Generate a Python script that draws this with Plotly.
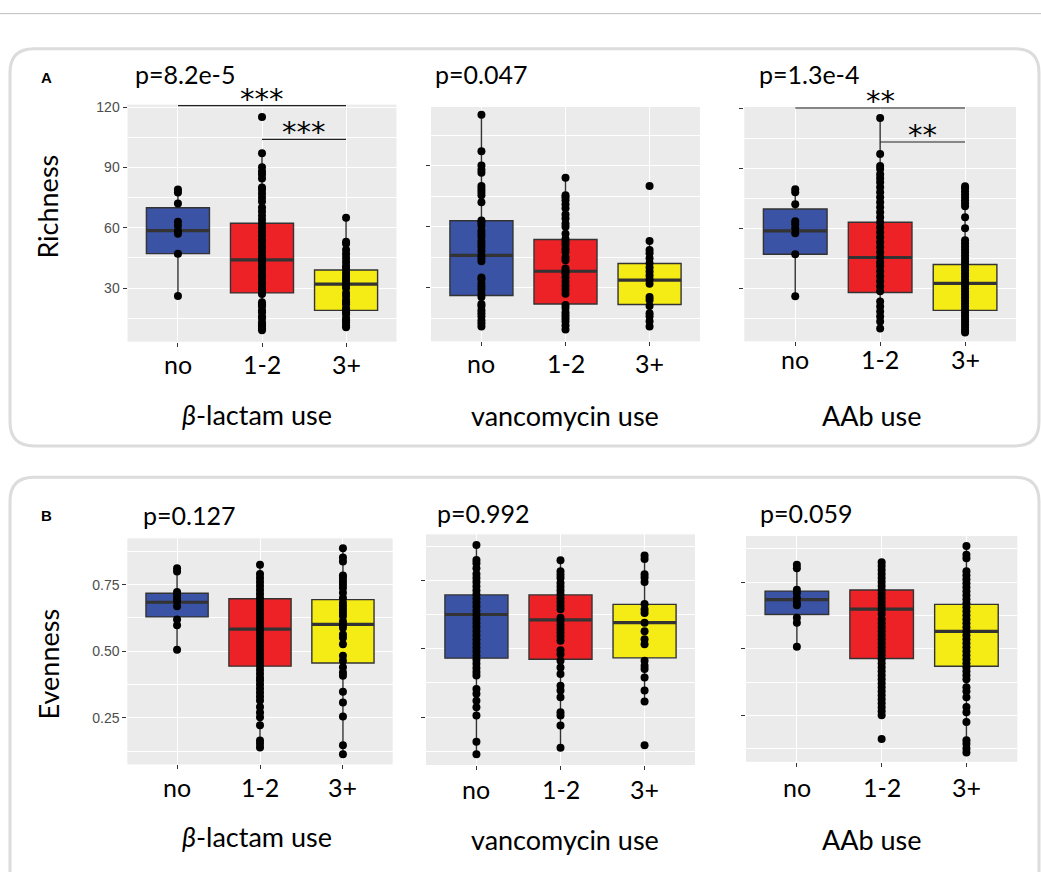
import plotly.graph_objects as go

W, H = 1041, 872

categories = ["no", "1-2", "3+"]
box_colors = ["#3A53A4", "#EC2227", "#F6EC15"]

# ---------------- Richness (panel A) ----------------
rich_blac_no = [79, 77.5, 72, 63, 61, 58.5, 57, 47, 26]
rich_blac_12 = [115, 97, 90, 88, 86.5, 84.5, 80, 79, 77, 75, 73, 70, 68, 66, 64, 62, 60, 58, 56, 54, 53,
                51, 50, 48, 46, 45, 44, 43, 41, 40, 39, 37, 36, 35, 33, 32, 30, 29, 28, 27, 23, 22, 21,
                19, 18, 16, 15, 13, 12, 11, 10, 9]
rich_blac_3p = [65, 53, 52, 49, 47, 45, 43, 41, 40, 38, 36.5, 35, 34, 32.5, 31, 30, 27.5, 26, 24, 23, 22,
                20, 19, 18, 17, 15, 14, 13, 11.5, 10.5]
rich_blac_q1 = [47.1, 27.6, 18.9]
rich_blac_med = [58.6, 44.0, 32.0]
rich_blac_q3 = [69.9, 62.2, 39.0]
rich_blac_lo = [26.0, 8.8, 10.5]
rich_blac_hi = [79.3, 97.2, 65.2]

rich_vanc_no = [115, 97, 90, 88, 86.5, 80, 78.5, 77, 75.5, 72, 63, 62, 60.5, 58, 56.5, 55, 53, 51.5, 50,
                48, 46, 44.5, 43, 35, 34, 32, 30.5, 29, 27, 25.5, 22, 21, 19, 17.5, 16, 14, 12.5, 11]
rich_vanc_12 = [84, 75.5, 74.5, 73, 71, 69, 66, 64, 61.5, 60, 56.5, 54, 52.5, 51, 49, 47.5, 45, 43.5,
                39.5, 38, 37, 35, 33, 31, 29, 27, 21.5, 20, 18, 16.5, 15, 13.5, 11.5, 9.5]
rich_vanc_3p = [80, 53, 48.5, 47, 44.5, 42, 40, 38, 36, 34, 32, 25.5, 24, 21, 17.5, 16, 13.5, 11]
rich_vanc_q1 = [26.2, 22.0, 21.8]
rich_vanc_med = [45.9, 38.1, 33.7]
rich_vanc_q3 = [62.9, 53.7, 41.9]
rich_vanc_lo = [11.0, 9.5, 11.0]
rich_vanc_hi = [115.0, 84.0, 52.8]

rich_aab_no = [79.5, 78, 72, 63.5, 62, 60, 57.5, 47, 26]
rich_aab_12 = [115, 97, 91, 89.5, 87, 85, 83, 80.5, 78, 75.5, 73, 70.5, 68, 65.5, 63, 60.5, 58, 55.5, 53,
               50.5, 48, 45.5, 43, 41, 38.5, 36, 33.5, 31, 28.5, 23.5, 21, 18.5, 16, 13.5, 10]
rich_aab_3p = [81, 80, 78.5, 77, 75.5, 74, 72.5, 71, 65.5, 60, 54, 52.5, 51, 49.5, 48, 46.5, 45, 43.5,
               42, 40.5, 39, 37.5, 36, 34.5, 33, 31.5, 30, 28.5, 27, 25.5, 24, 22.5, 21, 19.5, 18, 16.5,
               15, 13.5, 12, 10.5, 9, 8]
rich_aab_q1 = [47.0, 27.9, 19.0]
rich_aab_med = [58.7, 45.4, 32.5]
rich_aab_q3 = [69.6, 63.0, 41.9]
rich_aab_lo = [26.0, 10.0, 8.0]
rich_aab_hi = [79.5, 115.0, 76.0]

# ---------------- Evenness (panel B) ----------------
even_blac_no = [0.812, 0.80, 0.723, 0.713, 0.70, 0.688, 0.669, 0.619, 0.598, 0.506]
even_blac_12 = [0.825, 0.79, 0.775, 0.76, 0.745, 0.73, 0.715, 0.70, 0.685, 0.67, 0.655, 0.64, 0.625, 0.61,
                0.595, 0.58, 0.565, 0.55, 0.535, 0.52, 0.505, 0.49, 0.475, 0.46, 0.445, 0.43, 0.415,
                0.40, 0.39, 0.375, 0.36, 0.345, 0.33, 0.315, 0.29, 0.27, 0.252, 0.222, 0.165, 0.152,
                0.138]
even_blac_3p = [0.887, 0.852, 0.837, 0.785, 0.775, 0.762, 0.75, 0.738, 0.72, 0.70, 0.682, 0.67, 0.657,
                0.645, 0.632, 0.613, 0.60, 0.588, 0.563, 0.551, 0.526, 0.483, 0.464, 0.44, 0.42, 0.408,
                0.348, 0.307, 0.255, 0.147, 0.113]
even_blac_q1 = [0.629, 0.444, 0.456]
even_blac_med = [0.684, 0.583, 0.601]
even_blac_q3 = [0.718, 0.697, 0.694]
even_blac_lo = [0.506, 0.138, 0.113]
even_blac_hi = [0.812, 0.825, 0.887]

even_vanc_no = [0.881, 0.826, 0.814, 0.796, 0.775, 0.76, 0.745, 0.73, 0.715, 0.70, 0.685, 0.67, 0.655,
                0.64, 0.625, 0.61, 0.595, 0.58, 0.565, 0.55, 0.535, 0.52, 0.505, 0.49, 0.475, 0.46,
                0.445, 0.43, 0.415, 0.402, 0.353, 0.335, 0.31, 0.286, 0.256, 0.159, 0.114]
even_vanc_12 = [0.825, 0.785, 0.772, 0.76, 0.742, 0.728, 0.714, 0.70, 0.686, 0.672, 0.658, 0.645, 0.614,
                0.602, 0.588, 0.574, 0.56, 0.545, 0.53, 0.495, 0.48, 0.456, 0.432, 0.408, 0.365, 0.347,
                0.323, 0.268, 0.256, 0.219, 0.137]
even_vanc_3p = [0.842, 0.83, 0.774, 0.762, 0.745, 0.665, 0.644, 0.632, 0.596, 0.565, 0.535, 0.517, 0.456,
                0.438, 0.426, 0.395, 0.347, 0.307, 0.147]
even_vanc_q1 = [0.466, 0.462, 0.467]
even_vanc_med = [0.626, 0.606, 0.596]
even_vanc_q3 = [0.698, 0.698, 0.663]
even_vanc_lo = [0.114, 0.137, 0.307]
even_vanc_hi = [0.881, 0.825, 0.842]

even_aab_no = [0.815, 0.802, 0.721, 0.709, 0.69, 0.672, 0.663, 0.616, 0.597, 0.507]
even_aab_12 = [0.824, 0.81, 0.795, 0.78, 0.765, 0.75, 0.735, 0.72, 0.705, 0.69, 0.675, 0.66, 0.645, 0.63,
               0.61, 0.595, 0.58, 0.565, 0.55, 0.535, 0.52, 0.505, 0.49, 0.475, 0.46, 0.445, 0.43, 0.415,
               0.40, 0.385, 0.37, 0.355, 0.34, 0.325, 0.31, 0.295, 0.28, 0.265, 0.25, 0.161]
even_aab_3p = [0.885, 0.852, 0.839, 0.79, 0.775, 0.76, 0.745, 0.73, 0.715, 0.70, 0.685, 0.67, 0.655, 0.64,
               0.625, 0.61, 0.595, 0.58, 0.565, 0.55, 0.535, 0.52, 0.505, 0.49, 0.475, 0.46, 0.445, 0.43,
               0.415, 0.40, 0.385, 0.355, 0.34, 0.318, 0.281, 0.262, 0.225, 0.157, 0.144, 0.126, 0.111]
even_aab_q1 = [0.628, 0.463, 0.434]
even_aab_med = [0.684, 0.648, 0.565]
even_aab_q3 = [0.716, 0.720, 0.666]
even_aab_lo = [0.507, 0.25, 0.111]
even_aab_hi = [0.815, 0.824, 0.885]

p_values = ["p=8.2e-5", "p=0.047", "p=1.3e-4", "p=0.127", "p=0.992", "p=0.059"]
x_titles = ["<i>β</i>-lactam use", "vancomycin use", "AAb use"] * 2
# significance brackets: (from, to, height, label)
sig_rich_blac = [(0, 2, 120.7, "***"), (1, 2, 103.9, "***")]
sig_rich_aab = [(0, 2, 120.0, "**"), (1, 2, 103.0, "**")]

subplots = [
    dict(pts=[rich_blac_no, rich_blac_12, rich_blac_3p], q1=rich_blac_q1, med=rich_blac_med,
         q3=rich_blac_q3, lo=rich_blac_lo, hi=rich_blac_hi, sig=sig_rich_blac),
    dict(pts=[rich_vanc_no, rich_vanc_12, rich_vanc_3p], q1=rich_vanc_q1, med=rich_vanc_med,
         q3=rich_vanc_q3, lo=rich_vanc_lo, hi=rich_vanc_hi, sig=[]),
    dict(pts=[rich_aab_no, rich_aab_12, rich_aab_3p], q1=rich_aab_q1, med=rich_aab_med,
         q3=rich_aab_q3, lo=rich_aab_lo, hi=rich_aab_hi, sig=sig_rich_aab),
    dict(pts=[even_blac_no, even_blac_12, even_blac_3p], q1=even_blac_q1, med=even_blac_med,
         q3=even_blac_q3, lo=even_blac_lo, hi=even_blac_hi, sig=[]),
    dict(pts=[even_vanc_no, even_vanc_12, even_vanc_3p], q1=even_vanc_q1, med=even_vanc_med,
         q3=even_vanc_q3, lo=even_vanc_lo, hi=even_vanc_hi, sig=[]),
    dict(pts=[even_aab_no, even_aab_12, even_aab_3p], q1=even_aab_q1, med=even_aab_med,
         q3=even_aab_q3, lo=even_aab_lo, hi=even_aab_hi, sig=[]),
]

# ---------------- layout geometry (pixels) ----------------
DY = -4  # global vertical correction
# left, right, top, bottom, y-range
geo = [
    (127.5, 396.5, 103.3, 342.0, [3.34, 121.2]),
    (431.0, 700.0, 105.7, 341.7, [3.65, 118.8]),
    (744.3, 1016.0, 105.7, 341.7, [3.54, 120.5]),
    (127.3, 392.7, 540.0, 767.7, [0.0746, 0.9243]),
    (426.0, 695.0, 536.0, 768.3, [0.074, 0.920]),
    (746.0, 1017.3, 537.7, 765.0, [0.076, 0.9224]),
]
pval_pos = [(133, 72), (433, 72), (757, 72), (141, 517), (435, 515), (758, 515)]
xtitle_pos = [(257, 415), (565, 416), (872, 416), (257, 840), (565, 843), (872, 843)]
ticklab_y = [364, 363, 359, 790, 792, 790]

BIG = "Lato, Open Sans, sans-serif"
BOXW = 0.75


def px(x):
    return x / W


def py(y):
    return 1 - (y + DY) / H


fig = go.Figure()
layout = dict(
    width=W, height=H, margin=dict(l=0, r=0, t=0, b=0),
    paper_bgcolor="white", plot_bgcolor="#EBEBEB", showlegend=False,
    boxmode="overlay", shapes=[], annotations=[],
)

for k, (sp, g) in enumerate(zip(subplots, geo)):
    n = k + 1
    xa = "x" if n == 1 else f"x{n}"
    ya = "y" if n == 1 else f"y{n}"
    left, right, top, bottom, yr = g
    rich = k < 3
    for i in range(3):
        fig.add_trace(go.Box(
            x=[i], q1=[sp["q1"][i]], median=[sp["med"][i]], q3=[sp["q3"][i]],
            lowerfence=[sp["lo"][i]], upperfence=[sp["hi"][i]],
            width=BOXW, fillcolor=box_colors[i], boxpoints=False, whiskerwidth=0,
            line=dict(color="#333333", width=1.4), xaxis=xa, yaxis=ya, hoverinfo="skip",
        ))
    mx, my = [], []
    for i in range(3):
        mx += [i - BOXW / 2, i + BOXW / 2, None]
        my += [sp["med"][i], sp["med"][i], None]
    fig.add_trace(go.Scatter(x=mx, y=my, mode="lines", line=dict(color="#333333", width=3.2),
                             xaxis=xa, yaxis=ya, hoverinfo="skip"))
    for i in range(3):
        fig.add_trace(go.Scatter(
            x=[i] * len(sp["pts"][i]), y=sp["pts"][i], mode="markers",
            marker=dict(color="black", size=8), xaxis=xa, yaxis=ya, hoverinfo="skip"))

    axx = dict(
        domain=[px(left), px(right)], range=[-0.6, 2.6], anchor=ya,
        tickmode="array", tickvals=[0, 1, 2], showticklabels=False,
        showgrid=True, gridcolor="white", gridwidth=1.2, zeroline=False, showline=False,
        ticks="outside", ticklen=4, tickcolor="#333333", tickwidth=1,
    )
    axy = dict(
        domain=[py(bottom), py(top)], range=yr, anchor=xa,
        tick0=0, dtick=30 if rich else 0.25,
        tickformat="d" if rich else ".2f",
        showgrid=True, gridcolor="white", gridwidth=1.2, zeroline=False, showline=False,
        minor=dict(dtick=15 if rich else 0.125, showgrid=True, gridcolor="white", gridwidth=0.6),
        ticks="outside", ticklen=4, tickcolor="#333333", tickwidth=1,
        showticklabels=(k % 3 == 0),
        tickfont=dict(family="Liberation Sans, Arial, sans-serif", size=14, color="#4D4D4D"),
    )
    layout["xaxis" if n == 1 else f"xaxis{n}"] = axx
    layout["yaxis" if n == 1 else f"yaxis{n}"] = axy

    # category labels
    for i, c in enumerate(categories):
        layout["annotations"].append(dict(
            text=c, x=i, y=py(ticklab_y[k]), xref=xa, yref="paper",
            xanchor="center", yanchor="middle", showarrow=False,
            font=dict(family=BIG, size=25, color="black")))
    # p-value
    layout["annotations"].append(dict(
        text=p_values[k], x=px(pval_pos[k][0]), y=py(pval_pos[k][1]), xref="paper", yref="paper",
        xanchor="left", yanchor="middle", showarrow=False,
        font=dict(family=BIG, size=25, color="black")))
    # x title
    layout["annotations"].append(dict(
        text=x_titles[k], x=px(xtitle_pos[k][0]), y=py(xtitle_pos[k][1]), xref="paper", yref="paper",
        xanchor="center", yanchor="middle", showarrow=False,
        font=dict(family=BIG, size=27, color="black")))
    # significance brackets
    for (a, b, h, lab) in sp["sig"]:
        layout["shapes"].append(dict(type="line", xref=xa, yref=ya, x0=a, x1=b, y0=h, y1=h,
                                     line=dict(color="#222222", width=1.1)))
        layout["annotations"].append(dict(
            text=lab, x=(a + b) / 2, y=h, xref=xa, yref=ya, xanchor="center",
            yanchor="bottom", showarrow=False, yshift=-12,
            font=dict(family="DejaVu Sans", size=29, color="black")))

# y-axis titles
for txt, yc in [("Richness", 206), ("Evenness", 667)]:
    layout["annotations"].append(dict(
        text=txt, x=px(48), y=py(yc), xref="paper", yref="paper", textangle=-90,
        xanchor="center", yanchor="middle", showarrow=False,
        font=dict(family=BIG, size=27, color="black")))
# panel letters
for txt, yc in [("<b>A</b>", 76), ("<b>B</b>", 517)]:
    layout["annotations"].append(dict(
        text=txt, x=px(46), y=py(yc), xref="paper", yref="paper",
        xanchor="center", yanchor="middle", showarrow=False,
        font=dict(family="Liberation Sans, Arial, sans-serif", size=15, color="black")))


def rounded(x0, y0, x1, y1, r):
    X0, X1 = px(x0), px(x1)
    Y0, Y1 = py(y0), py(y1)
    rx, ry = r / W, r / H
    return (f"M {X0 + rx},{Y0} L {X1 - rx},{Y0} Q {X1},{Y0} {X1},{Y0 - ry} "
            f"L {X1},{Y1 + ry} Q {X1},{Y1} {X1 - rx},{Y1} L {X0 + rx},{Y1} "
            f"Q {X0},{Y1} {X0},{Y1 + ry} L {X0},{Y0 - ry} Q {X0},{Y0} {X0 + rx},{Y0} Z")


for (y0, y1) in [(47, 447), (478.5, 905)]:
    layout["shapes"].append(dict(type="path", xref="paper", yref="paper",
                                 path=rounded(10, y0, 1039, y1, 24),
                                 line=dict(color="#DCDCDC", width=3), layer="below"))
layout["shapes"].append(dict(type="line", xref="paper", yref="paper", x0=0, x1=1,
                             y0=py(11.7), y1=py(11.7), line=dict(color="#BDBDBD", width=1)))

fig.update_layout(**layout)
fig.write_html(
    "out.html",
    config={"displayModeBar": False},
    post_script=("document.body.style.margin='0';document.body.style.padding='0';"
                 "var g=document.getElementById('{plot_id}');"
                 "g.style.position='absolute';g.style.top='0px';g.style.left='0px';"),
)
